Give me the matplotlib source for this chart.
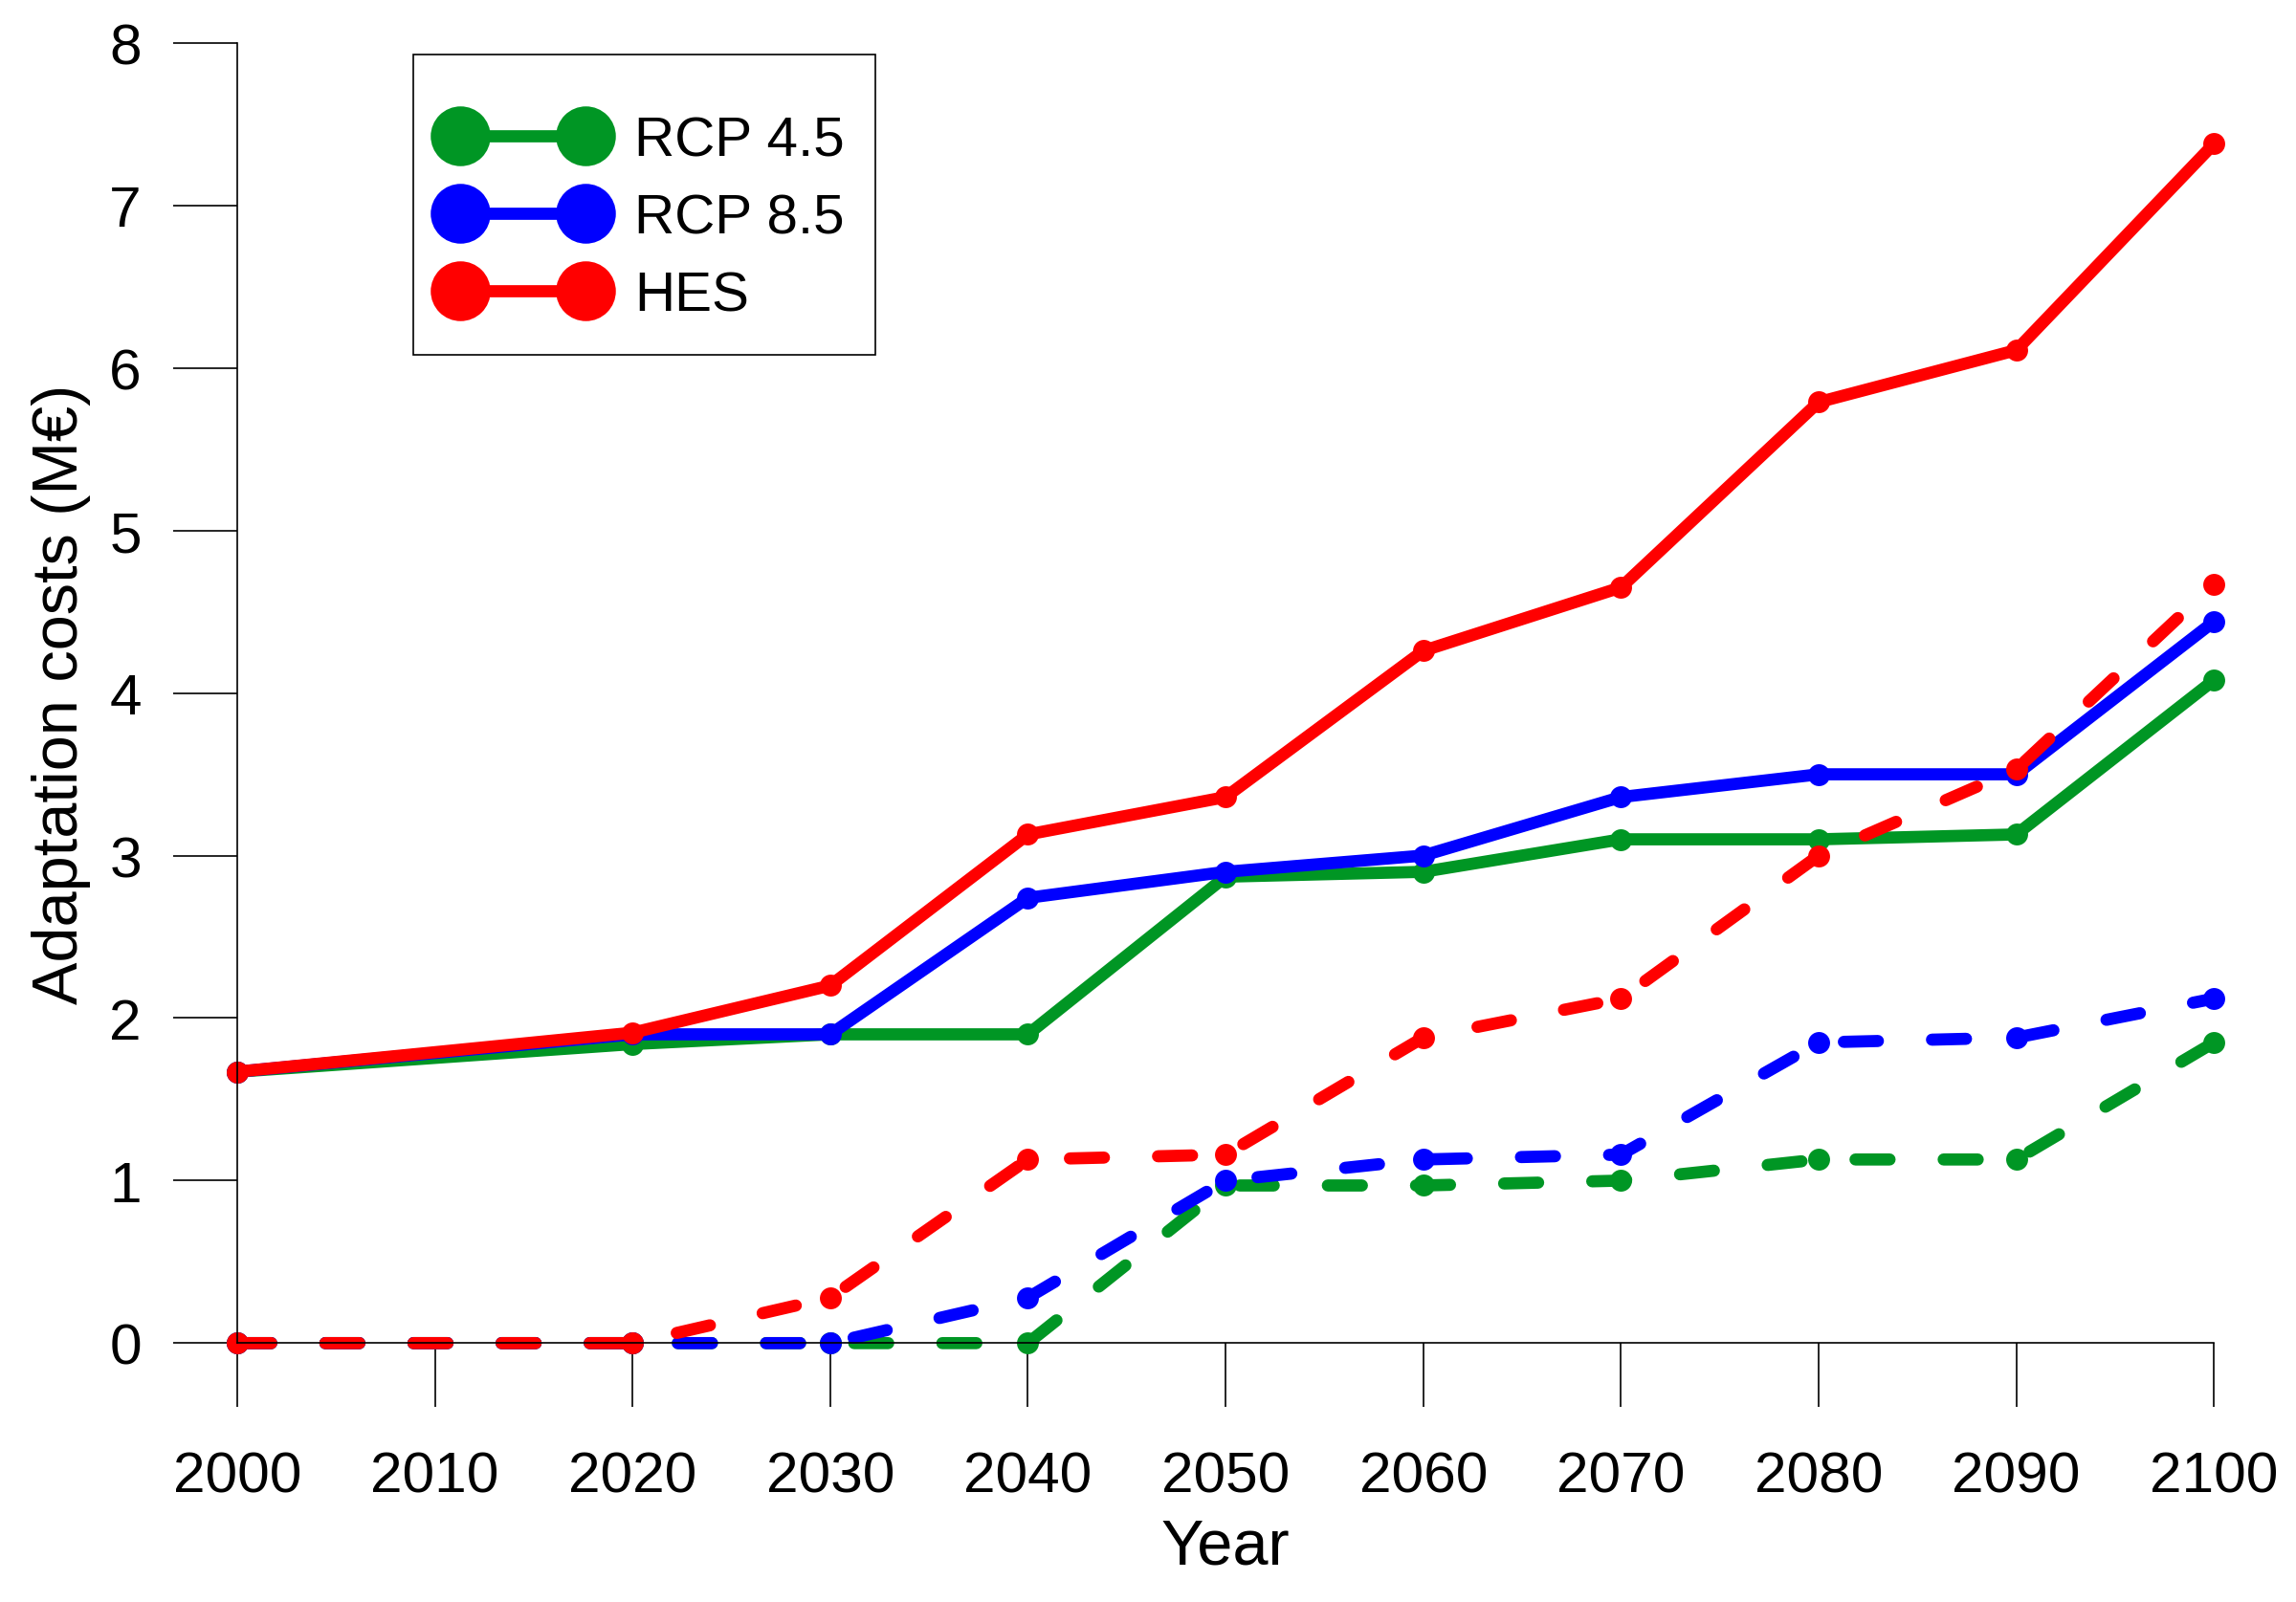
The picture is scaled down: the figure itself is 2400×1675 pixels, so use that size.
import matplotlib
matplotlib.use("Agg")
import matplotlib.pyplot as plt
from matplotlib.lines import Line2D
from matplotlib.patches import Rectangle

plt.rcParams['font.family'] = ['Liberation Sans', 'DejaVu Sans']

years = [2000, 2020, 2030, 2040, 2050, 2060, 2070, 2080, 2090, 2100]

# solid lines
rcp45 = [1.67, 1.84, 1.90, 1.90, 2.87, 2.90, 3.10, 3.10, 3.13, 4.08]
rcp85 = [1.67, 1.90, 1.90, 2.74, 2.90, 3.00, 3.36, 3.50, 3.50, 4.44]
hes = [1.67, 1.91, 2.20, 3.13, 3.36, 4.26, 4.65, 5.79, 6.11, 7.38]

# dashed lines
rcp45_d = [0, 0, 0, 0, 0.97, 0.97, 1.00, 1.13, 1.13, 1.85]
rcp85_d = [0, 0, 0, 0.28, 1.00, 1.13, 1.16, 1.85, 1.88, 2.12]
hes_d = [0, 0, 0.28, 1.13, 1.16, 1.88, 2.12, 3.00, 3.53, 4.67]

labels = ["RCP 4.5", "RCP 8.5", "HES"]
colors = ["#009624", "#0000FF", "#FF0000"]

fig = plt.figure(figsize=(16, 11.1733), dpi=150)
ax = fig.add_axes([0.1033, 0.1615, 0.861, 0.8111])

lw = 6.1
ms = 10
for vals, c in zip([rcp45, rcp85, hes], colors):
    ax.plot(years, vals, color=c, lw=lw, marker="o", ms=ms,
            solid_capstyle="round", solid_joinstyle="round", clip_on=False)
for vals, c in zip([rcp45_d, rcp85_d, hes_d], colors):
    ax.plot(years, vals, color=c, lw=lw, marker="o", ms=ms, dashes=(2.8, 4.45),
            dash_capstyle="round", clip_on=False)

ax.set_xlim(2000, 2100)
ax.set_ylim(0, 8)
ax.set_xticks(range(2000, 2101, 10))
ax.set_yticks(range(0, 9))
ax.spines["top"].set_visible(False)
ax.spines["right"].set_visible(False)
ax.spines["left"].set_linewidth(0.8)
ax.spines["bottom"].set_linewidth(0.8)
ax.tick_params(axis="both", direction="out", length=32, width=0.8, labelsize=29)
ax.tick_params(axis="x", pad=22)
ax.tick_params(axis="y", pad=16)

ax.set_xlabel("Year", fontsize=32)
ax.set_ylabel("Adaptation costs (M€)", fontsize=32)
ax.xaxis.set_label_coords(0.5, -0.134)
ax.yaxis.set_label_coords(-0.074, 0.5)

# legend box drawn separately so the padding matches the original
fig.patches.append(Rectangle((282 / 1568, 1 - 243 / 1096), 316 / 1568, 205 / 1096,
                             transform=fig.transFigure, fill=False,
                             edgecolor="black", linewidth=0.8))
handles = [Line2D([], [], color=c, lw=lw, marker="o", ms=29) for c in colors]
leg = fig.legend(handles, labels, loc="upper left",
                 bbox_to_anchor=(274 / 1568, 1 - 51 / 1096),
                 bbox_transform=fig.transFigure, borderaxespad=0,
                 fontsize=28, numpoints=2, handlelength=2.85,
                 handletextpad=0.58, labelspacing=0.46, borderpad=0.75,
                 frameon=False)

plt.savefig("out.png", dpi=150)
